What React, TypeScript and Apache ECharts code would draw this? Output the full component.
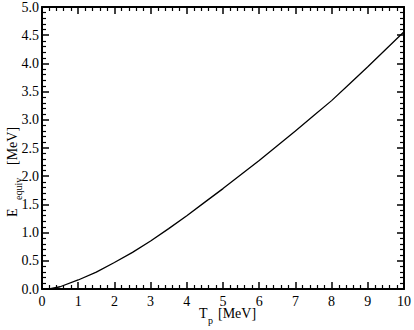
import React, { useEffect, useRef } from "react";
import * as echarts from "echarts";

const tp = [0.2, 0.5, 1, 1.5, 2, 2.5, 3, 3.5, 4, 4.5, 5, 5.5, 6, 6.5, 7, 7.5, 8, 8.5, 9, 9.5, 10];
const eEquiv = [0, 0.04, 0.16, 0.3, 0.47, 0.65, 0.85, 1.07, 1.3, 1.54, 1.78, 2.03, 2.28, 2.54, 2.8, 3.07, 3.34, 3.64, 3.94, 4.25, 4.56];
const xRange = { min: 0, max: 10, interval: 1 };
const yRange = { min: 0, max: 5, interval: 0.5 };
const xTitle = ["T", "p", "[MeV]"];
const yTitle = ["E", "equiv", "[MeV]"];

const FONT = "Liberation Serif";

function axisParts() {
  return {
    axisLine: { show: true, onZero: false, lineStyle: { color: "#000", width: 2 } },
    axisTick: { show: true, inside: true, length: 7, lineStyle: { color: "#000", width: 1.5 } },
    minorTick: { show: true, splitNumber: 5, length: 4, lineStyle: { color: "#000", width: 1.2 } },
    splitLine: { show: false },
  };
}

function txt(text: string, x: number, y: number, size: number, rotation = 0) {
  return {
    type: "text",
    x,
    y,
    rotation,
    silent: true,
    style: {
      text,
      fill: "#000",
      fontFamily: FONT,
      fontSize: size,
      align: "left",
      verticalAlign: "middle",
    },
  };
}

export default function App() {
  const ref = useRef<HTMLDivElement>(null);
  useEffect(() => {
    const chart = echarts.init(ref.current!, null, { renderer: "svg" });
    chart.setOption({
      animation: false,
      backgroundColor: "#fff",
      grid: { left: 42, right: 5, top: 6, bottom: 41 },
      graphic: [
        txt(xTitle[0], 199, 313, 14),
        txt(xTitle[1], 208, 320, 10),
        txt(xTitle[2], 218, 313, 14),
        txt(yTitle[0], 12, 217, 14, Math.PI / 2),
        txt(yTitle[1], 18, 200, 10, Math.PI / 2),
        txt(yTitle[2], 12, 165, 14, Math.PI / 2),
      ],
      xAxis: [
        {
          type: "value",
          position: "bottom",
          ...xRange,
          ...axisParts(),
          axisLabel: { color: "#000", fontFamily: FONT, fontSize: 14, margin: 5 },
        },
        {
          type: "value",
          position: "top",
          ...xRange,
          ...axisParts(),
          axisLabel: { show: false },
        },
      ],
      yAxis: [
        {
          type: "value",
          position: "left",
          ...yRange,
          ...axisParts(),
          axisLabel: {
            color: "#000",
            fontFamily: FONT,
            fontSize: 14,
            margin: 3,
            formatter: (v: number) => v.toFixed(1),
          },
        },
        {
          type: "value",
          position: "right",
          ...yRange,
          ...axisParts(),
          axisLabel: { show: false },
        },
      ],
      series: [
        {
          type: "line",
          data: tp.map((x, i) => [x, eEquiv[i]]),
          showSymbol: false,
          lineStyle: { color: "#000", width: 1.3 },
        },
      ],
    });
    return () => chart.dispose();
  }, []);
  return <div ref={ref} style={{ width: 414, height: 330, position: "absolute", left: 0, top: 0 }} />;
}
